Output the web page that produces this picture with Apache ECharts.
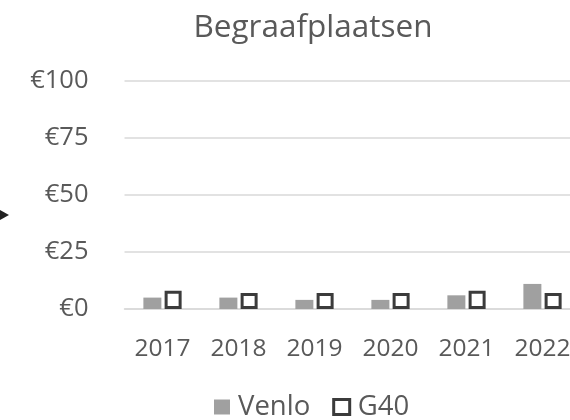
<!DOCTYPE html>
<html><head><meta charset="utf-8">
<script src="https://cdn.jsdelivr.net/npm/echarts@6/dist/echarts.min.js"></script>
<style>html,body{margin:0;padding:0;background:#fff}#c{width:570px;height:420px}</style>
</head><body><div id="c"></div>
<script>
const categories = ['2017','2018','2019','2020','2021','2022'];
const venlo = [5, 5, 4, 4, 6, 11];
const g40 = [8, 7, 7, 7, 8, 7];
const yTicks = [0, 25, 50, 75, 100];
const titleText = 'Begraafplaatsen';
const seriesNames = ['Venlo', 'G40'];

const chart = echarts.init(document.getElementById('c'), null, {renderer: 'canvas'});
const font = "'Open Sans', sans-serif";
chart.setOption({
  animation: false,
  textStyle: {fontFamily: font},
  title: {text: titleText, left: 308, textAlign: 'center', top: 7,
    textStyle: {fontFamily: font, fontSize: 31.5, fontWeight: 'normal', color: '#595959'}},
  legend: {top: 393, left: 214, padding: 0, itemWidth: 16, itemHeight: 15, itemGap: 22,
    textStyle: {fontFamily: font, fontSize: 27.5, color: '#595959', padding: [0, 0, 0, 3]},
    data: [
      {name: seriesNames[0], icon: 'rect', itemStyle: {color: '#a0a0a0'}},
      {name: seriesNames[1], icon: 'rect', itemStyle: {color: '#fff', borderColor: '#3b3b3b', borderWidth: 3}}
    ]},
  grid: {left: 124.5, width: 456, top: 81, bottom: 111, containLabel: false, outerBoundsMode: 'none'},
  xAxis: {type: 'category', data: categories,
    axisLine: {lineStyle: {color: '#d9d9d9', width: 1.5}}, axisTick: {show: false},
    axisLabel: {fontFamily: font, fontSize: 24.5, color: '#595959', margin: 28, hideOverlap: false}},
  yAxis: {type: 'value', min: yTicks[0], max: yTicks[yTicks.length-1], interval: 25,
    axisLine: {show: false}, axisTick: {show: false},
    splitLine: {lineStyle: {color: '#d9d9d9', width: 1.5}},
    axisLabel: {fontFamily: font, fontSize: 25.5, color: '#595959', margin: 36,
      formatter: v => '€' + v}},
  series: [
    {name: seriesNames[0], type: 'bar', data: venlo, barWidth: 18, barGap: '18%',
      itemStyle: {color: '#a0a0a0'}},
    {name: seriesNames[1], type: 'bar', data: g40, barWidth: 17,
      itemStyle: {color: '#fff', borderColor: '#3b3b3b', borderWidth: 3}}
  ],
  graphic: [{type: 'polygon', shape: {points: [[0,210],[9,215],[0,220]]}, style: {fill: '#222'}}]
});
</script></body></html>
